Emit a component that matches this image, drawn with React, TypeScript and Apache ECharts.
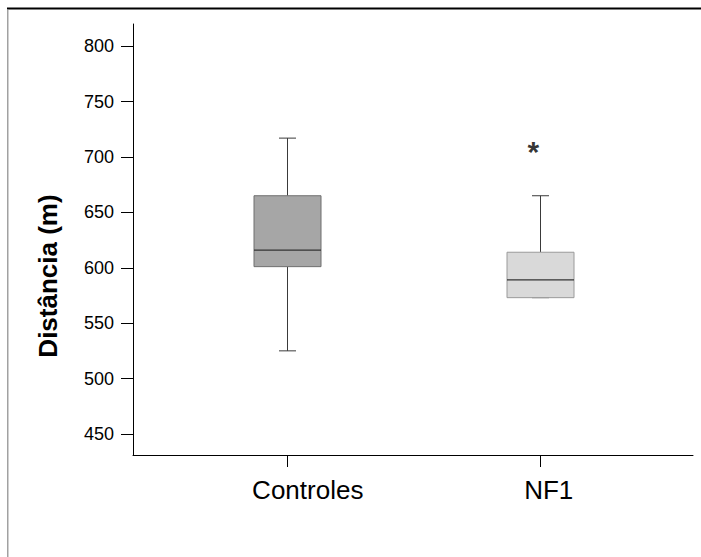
import React, { useEffect, useRef } from "react";
import * as echarts from "echarts";

const categories = ["Controles", "NF1"];
// [low, q1, median, q3, high]
const boxStats = [
  [525, 601, 616, 665, 717],
  [573, 573, 589, 614, 665],
];
const outliers = [[1, 709]];
const yTicks = [450, 500, 550, 600, 650, 700, 750, 800];
const yMin = 431;
const yMax = 820;
const fills = ["#a6a6a6", "#d9d9d9"];
const strokes = ["#6f6f6f", "#9a9a9a"];
const FONT = "'Liberation Sans', Arial, sans-serif";

export default function App() {
  const ref = useRef<HTMLDivElement>(null);
  useEffect(() => {
    if (!ref.current) return;
    const chart = echarts.init(ref.current, null, { renderer: "svg" });
    const data = boxStats.map((s, i) => [i, ...s]);
    chart.setOption({
      animation: false,
      backgroundColor: "#ffffff",
      textStyle: { fontFamily: FONT },
      grid: [
        { left: 133, top: 24, width: 560, height: 431 },
        { left: 160, top: 24, width: 507, height: 431 },
      ],
      xAxis: [
        {
          gridIndex: 0,
          type: "value",
          min: 0,
          max: 1,
          axisLine: { show: true, lineStyle: { color: "#000", width: 1 } },
          axisTick: { show: false },
          axisLabel: { show: false },
          splitLine: { show: false },
        },
        {
          gridIndex: 1,
          type: "category",
          data: categories,
          boundaryGap: true,
          axisLine: { show: false },
          axisTick: {
            show: true,
            alignWithLabel: true,
            length: 12,
            lineStyle: { color: "#000", width: 1 },
          },
          axisLabel: {
            margin: 22,
            color: "#000",
            fontSize: 26,
            fontFamily: FONT,
            formatter: (v: string) => (v === "Controles" ? "{a|" + v + "}" : "{b|" + v + "}"),
            rich: {
              a: { fontSize: 26, fontFamily: FONT, color: "#000", padding: [0, 0, 0, 42] },
              b: { fontSize: 26, fontFamily: FONT, color: "#000", padding: [0, 0, 0, 17] },
            },
          },
        },
      ],
      yAxis: [
        {
          gridIndex: 0,
          type: "value",
          min: yMin,
          max: yMax,
          axisLine: { show: true, lineStyle: { color: "#000", width: 1 } },
          axisTick: {
            show: true,
            length: 12,
            customValues: yTicks,
            lineStyle: { color: "#000", width: 1 },
          },
          axisLabel: {
            margin: 19,
            color: "#000",
            fontSize: 18,
            fontFamily: FONT,
            customValues: yTicks,
          },
          splitLine: { show: false },
        },
        {
          gridIndex: 1,
          type: "value",
          min: yMin,
          max: yMax,
          show: false,
          splitLine: { show: false },
        },
      ],
      series: [
        {
          type: "custom",
          xAxisIndex: 1,
          yAxisIndex: 1,
          data,
          renderItem: (params: any, api: any) => {
            const x = api.value(0);
            const low = api.coord([x, api.value(1)]);
            const q1 = api.coord([x, api.value(2)]);
            const med = api.coord([x, api.value(3)]);
            const q3 = api.coord([x, api.value(4)]);
            const high = api.coord([x, api.value(5)]);
            const cx = Math.round(high[0]) + 0.5;
            const bw = 67;
            const cw = 17;
            const idx = params.dataIndex;
            const ls = { stroke: "#3a3a3a", lineWidth: 1 };
            return {
              type: "group",
              children: [
                { type: "line", shape: { x1: cx, y1: high[1], x2: cx, y2: q3[1] }, style: ls },
                { type: "line", shape: { x1: cx, y1: low[1], x2: cx, y2: q1[1] }, style: ls },
                { type: "line", shape: { x1: cx - cw / 2, y1: high[1], x2: cx + cw / 2, y2: high[1] }, style: ls },
                { type: "line", shape: { x1: cx - cw / 2, y1: low[1], x2: cx + cw / 2, y2: low[1] }, style: ls },
                {
                  type: "rect",
                  shape: { x: cx - bw / 2, y: q3[1], width: bw, height: q1[1] - q3[1] },
                  style: { fill: fills[idx], stroke: strokes[idx], lineWidth: 1 },
                },
                {
                  type: "line",
                  shape: { x1: cx - bw / 2, y1: med[1], x2: cx + bw / 2, y2: med[1] },
                  style: { stroke: "#333", lineWidth: 1.2 },
                },
              ],
            };
          },
        },
        {
          type: "scatter",
          xAxisIndex: 1,
          yAxisIndex: 1,
          data: outliers,
          symbolSize: 1,
          itemStyle: { color: "rgba(0,0,0,0)" },
          label: {
            show: true,
            formatter: "*",
            position: "inside",
            offset: [-7, 5],
            fontSize: 30,
            fontWeight: "bold",
            color: "#000",
            fontFamily: FONT,
          },
        },
      ],
      graphic: [
        {
          type: "line",
          shape: { x1: 7, y1: 8.5, x2: 701, y2: 8.5 },
          style: { stroke: "#000", lineWidth: 2 },
        },
        {
          type: "line",
          shape: { x1: 7.8, y1: 9, x2: 7.8, y2: 557 },
          style: { stroke: "#8a8a8a", lineWidth: 1.2 },
        },
        {
          type: "text",
          x: 48,
          y: 276,
          rotation: Math.PI / 2,
          style: {
            text: "Distância (m)",
            fontSize: 26,
            fontWeight: "bold",
            fontFamily: FONT,
            fill: "#000",
            textAlign: "center",
            textVerticalAlign: "middle",
          },
        },
      ],
    });
    return () => chart.dispose();
  }, []);
  return (
    <div
      ref={ref}
      style={{ position: "absolute", left: 0, top: 0, width: 701, height: 557 }}
    />
  );
}
